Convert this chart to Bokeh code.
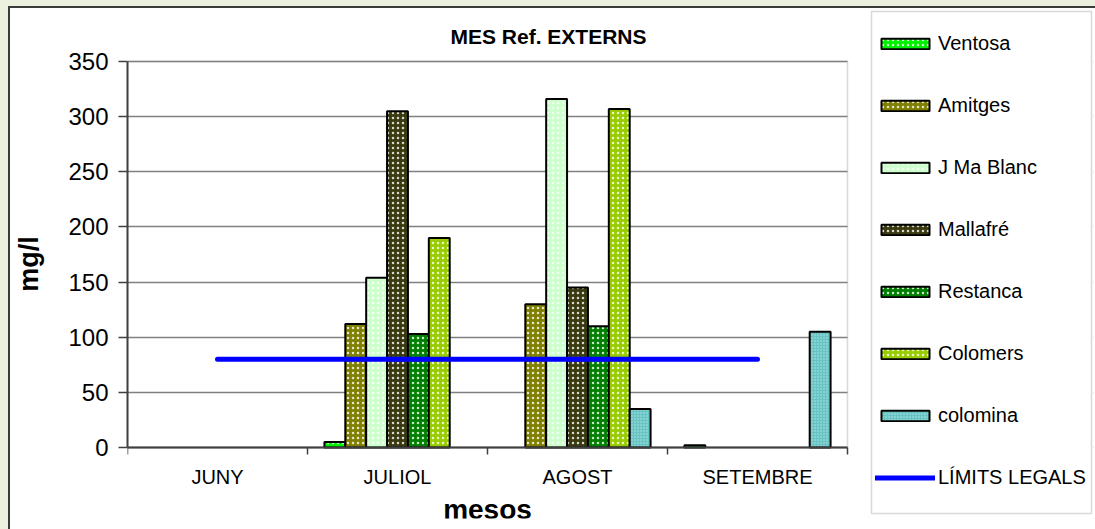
import numpy as np
from bokeh.plotting import figure
from bokeh.models import (ColumnDataSource, Range1d, FixedTicker, Legend, LegendItem,
                          BoxAnnotation, Label, LabelSet)
from bokeh.core.properties import value
from bokeh.transform import dodge
from bokeh.embed import file_html
from bokeh.resources import INLINE

# ---- data ----
months = ["JUNY", "JULIOL", "AGOST", "SETEMBRE"]
ventosa = [None, 5, None, 2]
amitges = [None, 112, 130, None]
jmablanc = [None, 154, 316, None]
mallafre = [None, 305, 145, None]
restanca = [None, 103, 110, None]
colomers = [None, 190, 307, None]
colomina = [None, None, 35, 105]
limits = [80, 80, 80, 80]
yticks = [0, 50, 100, 150, 200, 250, 300, 350]
y_max = 350

series_names = ["Ventosa", "Amitges", "J Ma Blanc", "Mallafré", "Restanca", "Colomers", "colomina"]
series_vals = [ventosa, amitges, jmablanc, mallafre, restanca, colomers, colomina]
series_colors = ["#00F000", "#808000", "#CCFFCC", "#3A3A10", "#008000", "#99CC00", "#66C4C4"]
limit_name = "LÍMITS LEGALS"
title_text = "MES Ref. EXTERNS"


def nanify(v):
    return [np.nan if x is None else x for x in v]


# ---- page layout (pixels) ----
W, H = 1095, 529
PA_L, PA_R, PA_T, PA_B = 127, 847, 61, 447      # plot area
FR_T, FR_B, FR_R = 9, 518, 1093                  # drawing frame (holds legend too)
CAT_PX = (PA_R - PA_L) / len(months)
KY = (PA_B - PA_T) / y_max


def xpx(px):
    return (px - PA_L) / CAT_PX


def ypx(py):
    return (PA_B - py) / KY


xc = [i + 0.5 for i in range(len(months))]
data = {"xc": xc, "limit": limits}
for k, v in enumerate(series_vals):
    data["s%d" % k] = nanify(v)
src = ColumnDataSource(data)

FONT = "Liberation Sans"

p = figure(width=W, height=H, output_backend="svg", toolbar_location=None,
           x_range=Range1d(0, xpx(FR_R)), y_range=Range1d(ypx(FR_B), ypx(FR_T)),
           min_border_left=PA_L, min_border_top=FR_T, min_border_right=W - FR_R,
           min_border_bottom=H - FR_B)
p.styles = {"box-shadow": "inset 8px 6px 0 0 #EBF1DE, inset 10px 8px 0 0 #3a3a3a"}
p.title.text = ""
p.title.visible = False
p.border_fill_color = None
p.background_fill_color = "white"
p.outline_line_color = None

# grid
p.xgrid.grid_line_color = None
p.ygrid.grid_line_color = "#808080"
p.ygrid.grid_line_width = 1.5
p.ygrid.ticker = FixedTicker(ticks=yticks)

# white cover right of the plot area, then plot-area border
p.add_layout(BoxAnnotation(left=len(months), fill_color="white", fill_alpha=1,
                           line_color=None, level="underlay"))
p.add_layout(BoxAnnotation(left=0, right=len(months), bottom=0, top=y_max,
                           fill_alpha=0, line_color="#808080", line_width=1.5,
                           level="underlay"))


def bar_style(k):
    return dict(fill_color=series_colors[k], line_color="black", line_width=2,
                hatch_pattern=".", hatch_color="white",
                hatch_alpha=0.8 if k != 6 else 0.55,
                hatch_scale=5 if k != 6 else 3, hatch_weight=2.2 if k != 6 else 1.2)


# bars
bw = 0.116
n = len(series_names)
renderers = []
for k in range(n):
    off = (k - (n - 1) / 2) * bw
    r = p.vbar(x=dodge("xc", off), top="s%d" % k, width=bw, bottom=0, source=src, **bar_style(k))
    renderers.append(r)

lr = p.line(x="xc", y="limit", source=src, line_color="#0000FF", line_width=5, line_cap="round")

# y axis
ya = p.yaxis[0]
ya.ticker = FixedTicker(ticks=yticks)
ya.bounds = (0, y_max)
ya.axis_line_color = "#404040"
ya.axis_line_width = 2
ya.major_tick_line_color = "#404040"
ya.major_tick_line_width = 1.5
ya.major_tick_out = 9
ya.major_tick_in = 0
ya.minor_tick_line_color = None
ya.major_label_text_font = FONT
ya.major_label_text_font_size = "24px"
ya.major_label_text_color = "black"
ya.major_label_standoff = 10
ya.axis_label = "mg/l"
ya.axis_label_text_font = FONT
ya.axis_label_text_font_size = "27px"
ya.axis_label_text_font_style = "bold"
ya.axis_label_text_color = "black"
ya.axis_label_standoff = 21

# x axis: line at y=0 with ticks between categories (labels drawn below as a LabelSet)
xa = p.xaxis[0]
xa.fixed_location = 0
xa.bounds = (0, len(months))
xa.ticker = FixedTicker(ticks=[], minor_ticks=list(range(len(months) + 1)))
xa.axis_line_color = "#404040"
xa.axis_line_width = 2
xa.major_tick_line_color = None
xa.major_tick_out = 0
xa.major_tick_in = 0
xa.minor_tick_line_color = "#404040"
xa.minor_tick_line_width = 1.5
xa.minor_tick_out = 7
xa.minor_tick_in = 0
xa.major_label_standoff = 0

# category labels, axis title, chart title
lab_src = ColumnDataSource(dict(x=xc, y=[ypx(465)] * len(months), text=months))
p.add_layout(LabelSet(x="x", y="y", text="text", source=lab_src, text_font=value(FONT),
                      text_font_size=value("20px"), text_color="black", text_align="center",
                      text_baseline="top"))
p.add_layout(Label(x=len(months) / 2, y=ypx(493), text="mesos", text_font=FONT,
                   text_font_size="28px", text_font_style="bold", text_color="black",
                   text_align="center", text_baseline="top"))
p.add_layout(Label(x=xpx(450), y=ypx(24.5), text=title_text, text_font=FONT,
                   text_font_size="21px", text_font_style="bold", text_color="black",
                   text_align="left", text_baseline="top"))

# legend box + legend
p.add_layout(BoxAnnotation(left=xpx(871), right=xpx(1091), top=ypx(11), bottom=ypx(513),
                           fill_color="white", fill_alpha=1, line_color="#808080",
                           line_width=1.5))
items = [LegendItem(label=nm, renderers=[r]) for nm, r in zip(series_names, renderers)]
items.append(LegendItem(label=limit_name, renderers=[lr]))
leg = Legend(items=items, location=(875 - PA_L, 29))
leg.border_line_color = None
leg.background_fill_alpha = 0
leg.label_text_font = FONT
leg.label_text_font_size = "20px"
leg.label_text_color = "black"
leg.glyph_width = 60
leg.glyph_height = 13
leg.label_height = 20
leg.label_standoff = 3
leg.padding = 5
leg.spacing = 39
leg.margin = 0
p.add_layout(leg, "center")

open("out.html", "w").write(file_html(p, INLINE))
